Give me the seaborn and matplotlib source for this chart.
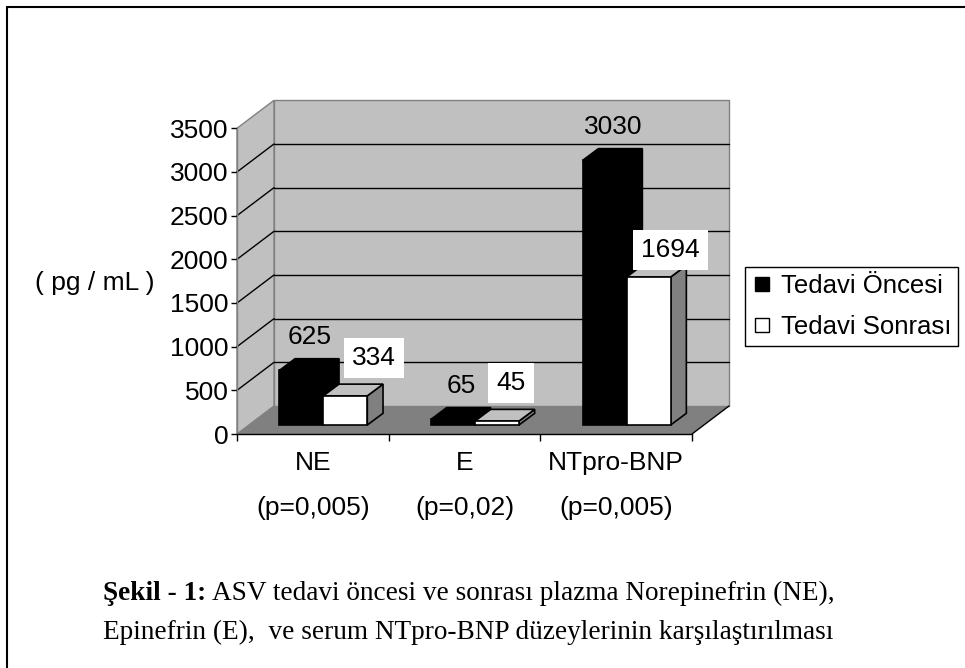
import numpy as np
import pandas as pd
import matplotlib
matplotlib.use("Agg")
import matplotlib.pyplot as plt
import seaborn as sns
from matplotlib.patches import Polygon
from matplotlib.lines import Line2D

# ---------------- data ----------------
categories = ["NE", "E", "NTpro-BNP"]
p_values = ["(p=0,005)", "(p=0,02)", "(p=0,005)"]
series = ["Tedavi Öncesi", "Tedavi Sonrası"]
before = [625, 65, 3030]
after = [334, 45, 1694]
yticks = [0, 500, 1000, 1500, 2000, 2500, 3000, 3500]
ylabel = "( pg / mL )"
caption_bold = "Şekil - 1:"
caption_line1 = "ASV tedavi öncesi ve sonrası plazma Norepinefrin (NE),"
caption_line2 = "Epinefrin (E),  ve serum NTpro-BNP düzeylerinin karşılaştırılması"

# ---------------- style ----------------
sns.set_theme(style="white")
plt.rcParams["font.family"] = ["Liberation Sans", "DejaVu Sans"]
for k in ["text.color", "axes.labelcolor", "xtick.color", "ytick.color"]:
    plt.rcParams[k] = "black"

FS = 19
W, H, DPI = 965, 668, 100
fig = plt.figure(figsize=(W / DPI, H / DPI), dpi=DPI)
fig.patch.set_facecolor("white")

L, R, T, B = 237, 692, 128.3, 434
ax = fig.add_axes([L / W, 1 - B / H, (R - L) / W, (B - T) / H])
ax.set_facecolor("none")

df = pd.DataFrame({
    "cat": categories * 2,
    "val": before + after,
    "series": [series[0]] * len(categories) + [series[1]] * len(categories),
})
sns.barplot(data=df, x="cat", y="val", hue="series", order=categories,
            hue_order=series, palette=["black", "white"], width=0.58,
            saturation=1, edgecolor="black", linewidth=1.2, legend=False,
            errorbar=None, ax=ax)
ax.set_xlim(-0.5, len(categories) - 0.5)
ax.set_ylim(0, 3500)

sx = (R - L) / len(categories)   # px per x unit
sy = (B - T) / 3500               # px per y unit


def dxy(px, py):
    return px / sx, py / sy


DX, DY = dxy(37, 28)      # wall depth
FX, FY = dxy(10.5, 9)     # bar front-face depth
BX, BY = dxy(15.7, 11.7)  # bar depth
x0a, x1a = -0.5, len(categories) - 0.5
ymax = 3500
wall_c = "#c0c0c0"
floor_c = "#808080"
edge_g = "#808080"

# walls
ax.add_patch(Polygon([(x0a + DX, DY), (x1a + DX, DY), (x1a + DX, ymax + DY), (x0a + DX, ymax + DY)],
                     closed=True, fc=wall_c, ec=edge_g, lw=1, zorder=0.3, clip_on=False))
ax.add_patch(Polygon([(x0a, 0), (x0a + DX, DY), (x0a + DX, ymax + DY), (x0a, ymax)],
                     closed=True, fc=wall_c, ec=edge_g, lw=1, zorder=0.3, clip_on=False))
for v in yticks[1:-1]:
    ax.plot([x0a + DX, x1a + DX], [v + DY, v + DY], color="black", lw=1, zorder=0.4, clip_on=False)
    ax.plot([x0a, x0a + DX], [v, v + DY], color="black", lw=1, zorder=0.4, clip_on=False)
ax.add_patch(Polygon([(x0a, 0), (x1a, 0), (x1a + DX, DY), (x0a + DX, DY)],
                     closed=True, fc=floor_c, ec="none", zorder=0.5, clip_on=False))
ax.plot([x1a, x1a + DX], [0, DY], color="black", lw=1, zorder=0.6, clip_on=False)

# bars (3D faces)
white_off = [(29, 38), (14, 38), (22, 27)]
black_off = (8.5, 33)
bars = list(ax.patches)[: 2 * len(categories)]
for p in bars:
    x0 = p.get_x()
    w = p.get_width()
    h = p.get_height()
    cx = x0 + w / 2
    ci = int(round(cx))
    si = 0 if cx < ci else 1
    nx = x0 + FX
    p.set_x(nx)
    p.set_y(FY)
    z = 2 + ci * 4 + si * 2
    p.set_zorder(z + 1)
    p.set_clip_on(False)
    if si == 0:
        top_c, side_c = "black", "black"
    else:
        top_c, side_c = "#c0c0c0", "#808080"
    top = Polygon([(nx, FY + h), (nx + w, FY + h), (nx + w + BX, FY + h + BY), (nx + BX, FY + h + BY)],
                  closed=True, fc=top_c, ec="black", lw=1.2, zorder=z, clip_on=False)
    side = Polygon([(nx + w, FY), (nx + w + BX, FY + BY), (nx + w + BX, FY + h + BY), (nx + w, FY + h)],
                   closed=True, fc=side_c, ec="black", lw=1.2, zorder=z, clip_on=False)
    ax.add_patch(side)
    ax.add_patch(top)
    val = [before, after][si][ci]
    if si == 0:
        ox, oy = black_off
        ax.annotate(f"{val}", xy=(nx + w / 2, FY + h), xytext=(ox * 0.72, oy * 0.72),
                    textcoords="offset points", ha="center", va="center", fontsize=FS,
                    zorder=20, annotation_clip=False)
    else:
        ox, oy = white_off[ci]
        ax.annotate(f"{val}", xy=(nx + w / 2, FY + h), xytext=(ox * 0.72, oy * 0.72),
                    textcoords="offset points", ha="center", va="center", fontsize=FS,
                    zorder=20, annotation_clip=False,
                    bbox=dict(boxstyle="square,pad=0.3", fc="white", ec="none"))

# axes styling
for s in ["top", "right"]:
    ax.spines[s].set_visible(False)
ax.spines["left"].set_color(edge_g)
ax.spines["left"].set_linewidth(1)
ax.spines["bottom"].set_color("black")
ax.spines["bottom"].set_linewidth(1)
ax.spines["left"].set_zorder(0.6)
ax.set_yticks(yticks)
ax.set_yticklabels([str(v) for v in yticks], fontsize=FS)
ax.set_xticks([x0a + k for k in range(len(categories) + 1)])
ax.set_xticklabels([])
ax.tick_params(axis="y", direction="out", length=4, width=1, color="black", pad=2, left=True)
ax.tick_params(axis="x", direction="out", length=5, width=1, color="black", bottom=True)
ax.set_xlabel("")
ax.set_ylabel("")

for i, (c, pv) in enumerate(zip(categories, p_values)):
    ax.annotate(c, xy=(i, 0), xytext=(0, -29 * 0.72), textcoords="offset points",
                ha="center", va="center", fontsize=FS, annotation_clip=False)
    ax.annotate(pv, xy=(i, 0), xytext=(0, -74 * 0.72), textcoords="offset points",
                ha="center", va="center", fontsize=FS, annotation_clip=False)

fig.text(95 / W, 1 - 283 / H, ylabel, ha="center", va="center", fontsize=FS)

# legend
handles = [Line2D([], [], marker="s", linestyle="none", markersize=10,
                  markerfacecolor=c, markeredgecolor="black", markeredgewidth=1)
           for c in ["black", "white"]]
leg = fig.legend(handles, series, loc="center left", bbox_to_anchor=(745 / W, 1 - 306.5 / H),
                 frameon=True, fancybox=False, edgecolor="black", fontsize=18.5,
                 handlelength=0.75, handletextpad=0.36, labelspacing=0.68, borderpad=0.28,
                 borderaxespad=0)
leg.get_frame().set_linewidth(1)
leg.get_frame().set_alpha(1)

# caption
serif = ["Liberation Serif", "DejaVu Serif"]
CFS = 19.6
t1 = fig.text(103 / W, 1 - 593 / H, caption_bold, family=serif, fontweight="bold",
              fontsize=CFS, ha="left", va="center")
ax.annotate(caption_line1, xy=(1, 0.5), xycoords=t1, xytext=(4, 0), textcoords="offset points",
            family=serif, fontsize=CFS, ha="left", va="center", annotation_clip=False)
fig.text(103 / W, 1 - 632 / H, caption_line2, family=serif, fontsize=CFS, ha="left", va="center")

# frame
fig.add_artist(Line2D([7 / W, 7 / W], [0, 1 - 7 / H], transform=fig.transFigure, color="black", lw=1.5))
fig.add_artist(Line2D([7 / W, 1], [1 - 7 / H, 1 - 7 / H], transform=fig.transFigure, color="black", lw=1.5))

fig.savefig("out.png", dpi=DPI)
